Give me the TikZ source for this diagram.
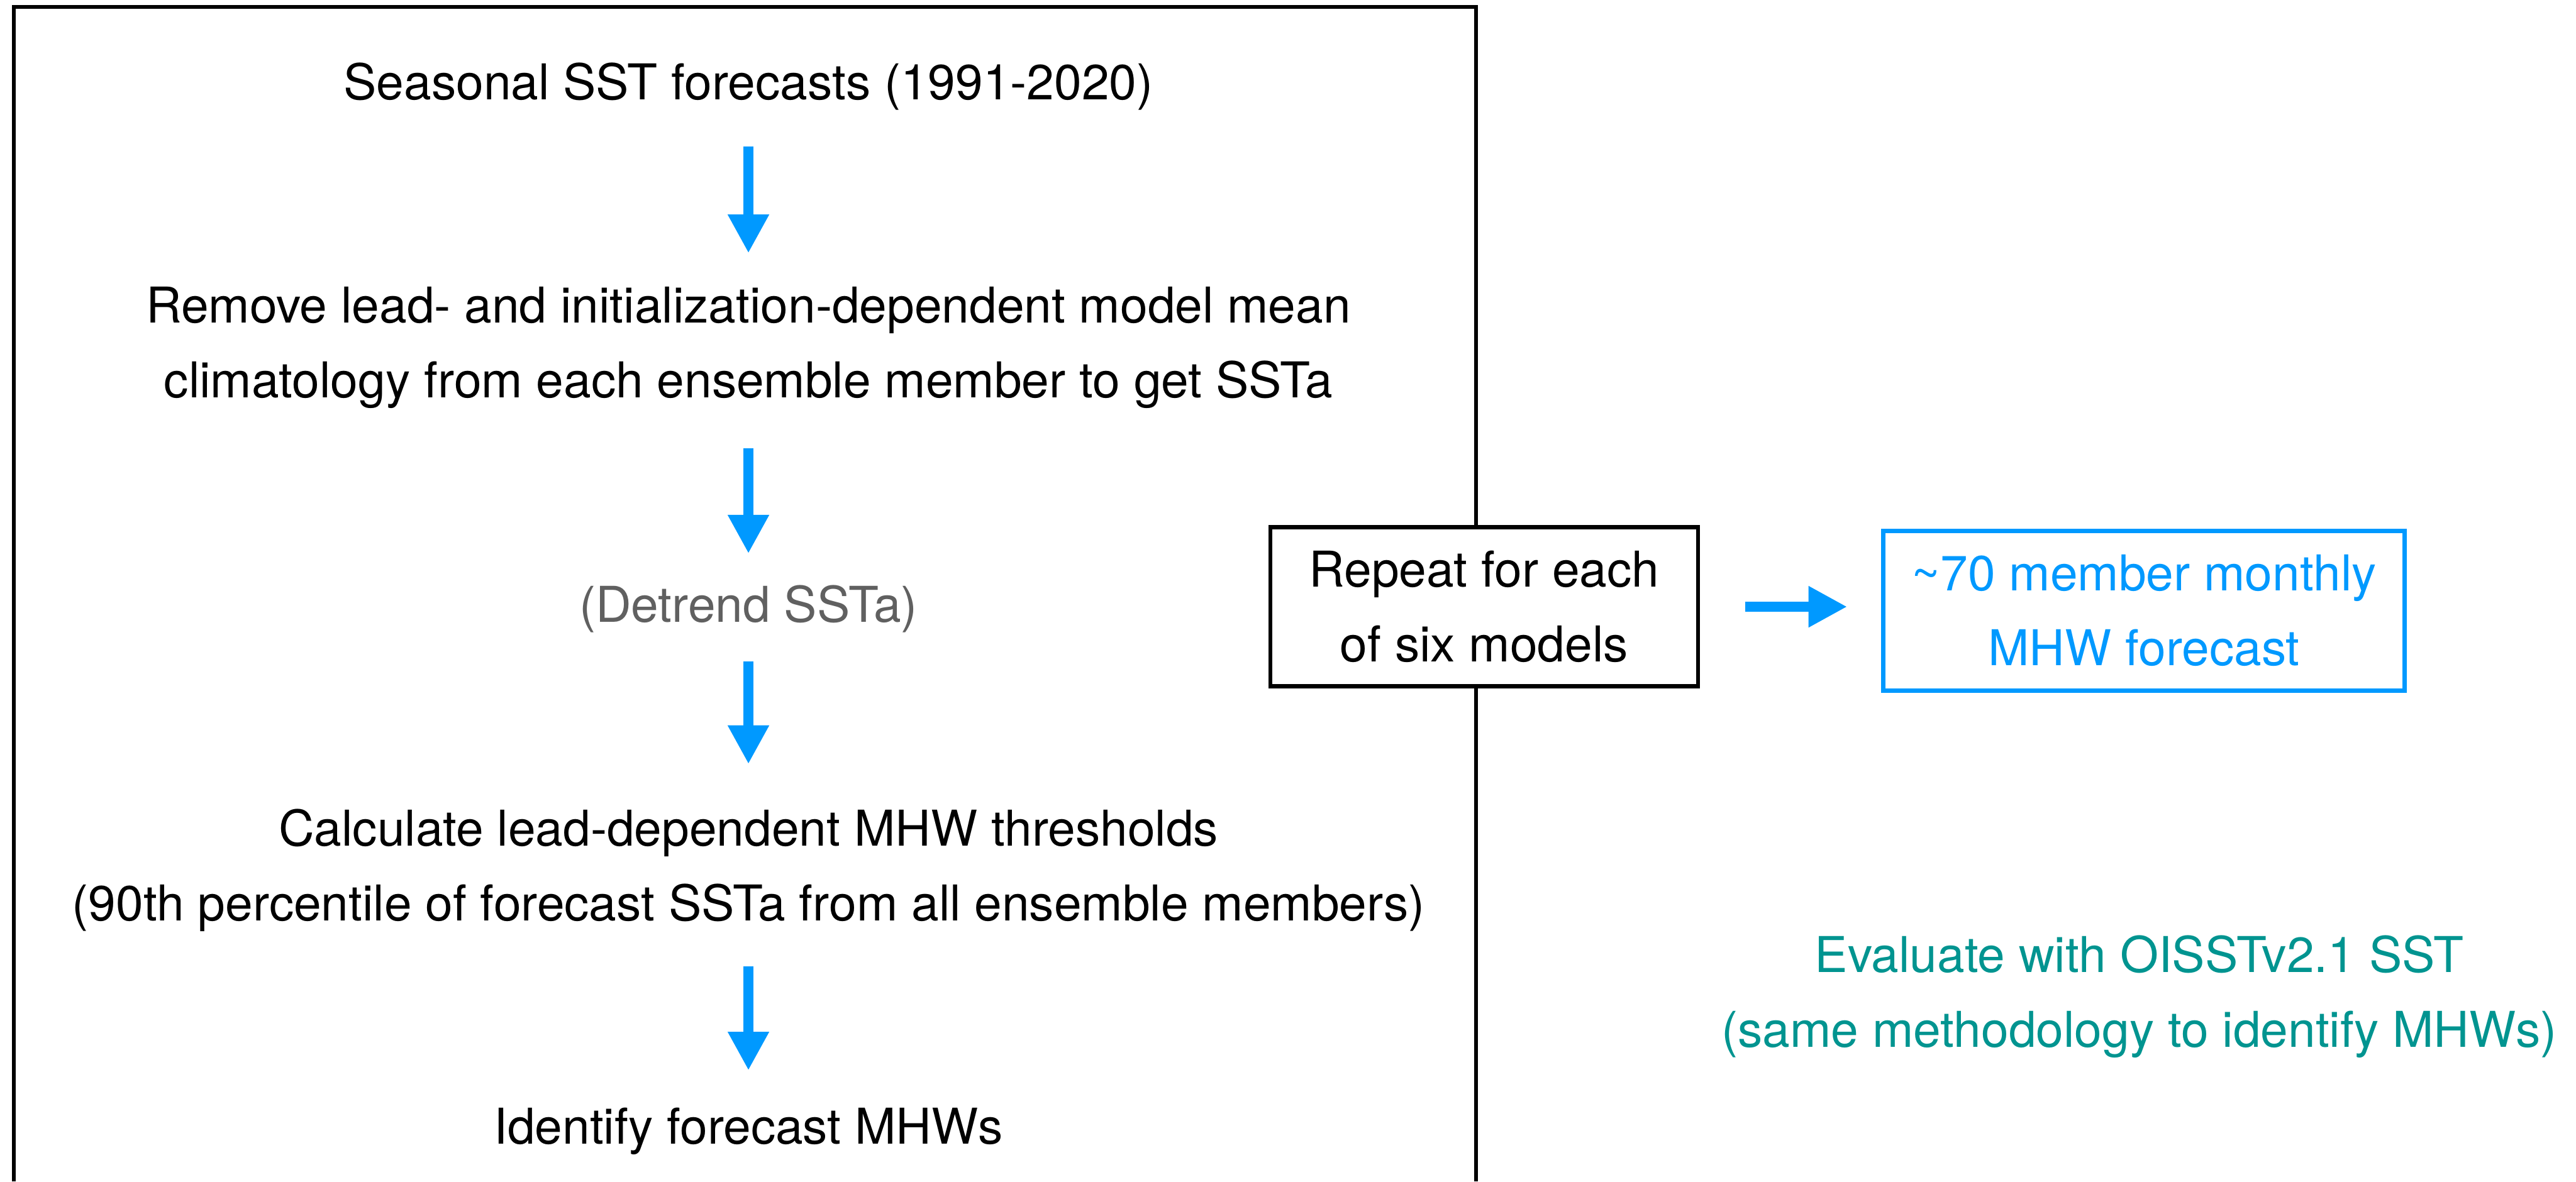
\documentclass[tikz,border=0pt]{standalone}
\usepackage{fontspec}
\setmainfont{TeX Gyre Heros}
\usepackage{xcolor}
\usetikzlibrary{arrows.meta, positioning}

\definecolor{mhwblue}{RGB}{0,153,255}
\definecolor{obsteal}{RGB}{0,148,144}
\definecolor{optgray}{RGB}{96,96,96}

\begin{document}
\begin{tikzpicture}[node distance=4.93cm, on grid,
    txt/.style={inner sep=0pt, align=center, font=\fontsize{26.5}{40.1}\selectfont},
    flow/.style={line width=1.9mm, color=mhwblue, -{Triangle[length=7.3mm, width=7.3mm]}},
    boxed/.style={txt, draw, line width=0.75mm, fill=white, minimum width=8.07cm, minimum height=3cm}]
        \useasboundingbox (0,0) rectangle (48.6,-22.3);

        % frame round the per-model steps
        \draw[line width=0.7mm] (0.26,-22.3) |- (27.85,-0.135) -- (27.85,-22.3);

        \node[txt] (s1) at (14.12,-1.63) {Seasonal SST forecasts (1991-2020)};
        \node[txt] (s2) [below=of s1] {Remove lead- and initialization-dependent model mean\\climatology from each ensemble member to get SSTa};
        \node[txt, text=optgray] (s3) [below=of s2] {(Detrend SSTa)};
        \node[txt] (s4) [below=of s3] {Calculate lead-dependent MHW thresholds\\(90th percentile of forecast SSTa from all ensemble members)};
        \node[txt] (s5) [below=of s4] {Identify forecast MHWs};

        \node[boxed] (rep) at (28.00,-11.45) {Repeat for each\\of six models};
        \node[boxed, draw=mhwblue, text=mhwblue, line width=0.8mm, minimum width=9.84cm, minimum height=3.01cm] (out) at (40.45,-11.525) {\textasciitilde70 member monthly\\MHW forecast};
        \node[txt, text=obsteal] (eval) at (40.36,-18.81) {Evaluate with OISSTv2.1 SST\\(same methodology to identify MHWs)};

        \path[flow]
        (s1) edge [shorten <=0.68cm, shorten >=0.63cm] (s2)
        (s2) edge [shorten <=0.75cm, shorten >=0.59cm] (s3)
        (s3) edge [shorten <=0.54cm, shorten >=0.84cm] (s4)
        (s4) edge [shorten <=0.65cm, shorten >=0.70cm] (s5);

        \draw[flow, shorten <=0.85cm, shorten >=0.64cm] (rep.east) -- (rep.east -| out.west);
    \end{tikzpicture}
\end{document}
